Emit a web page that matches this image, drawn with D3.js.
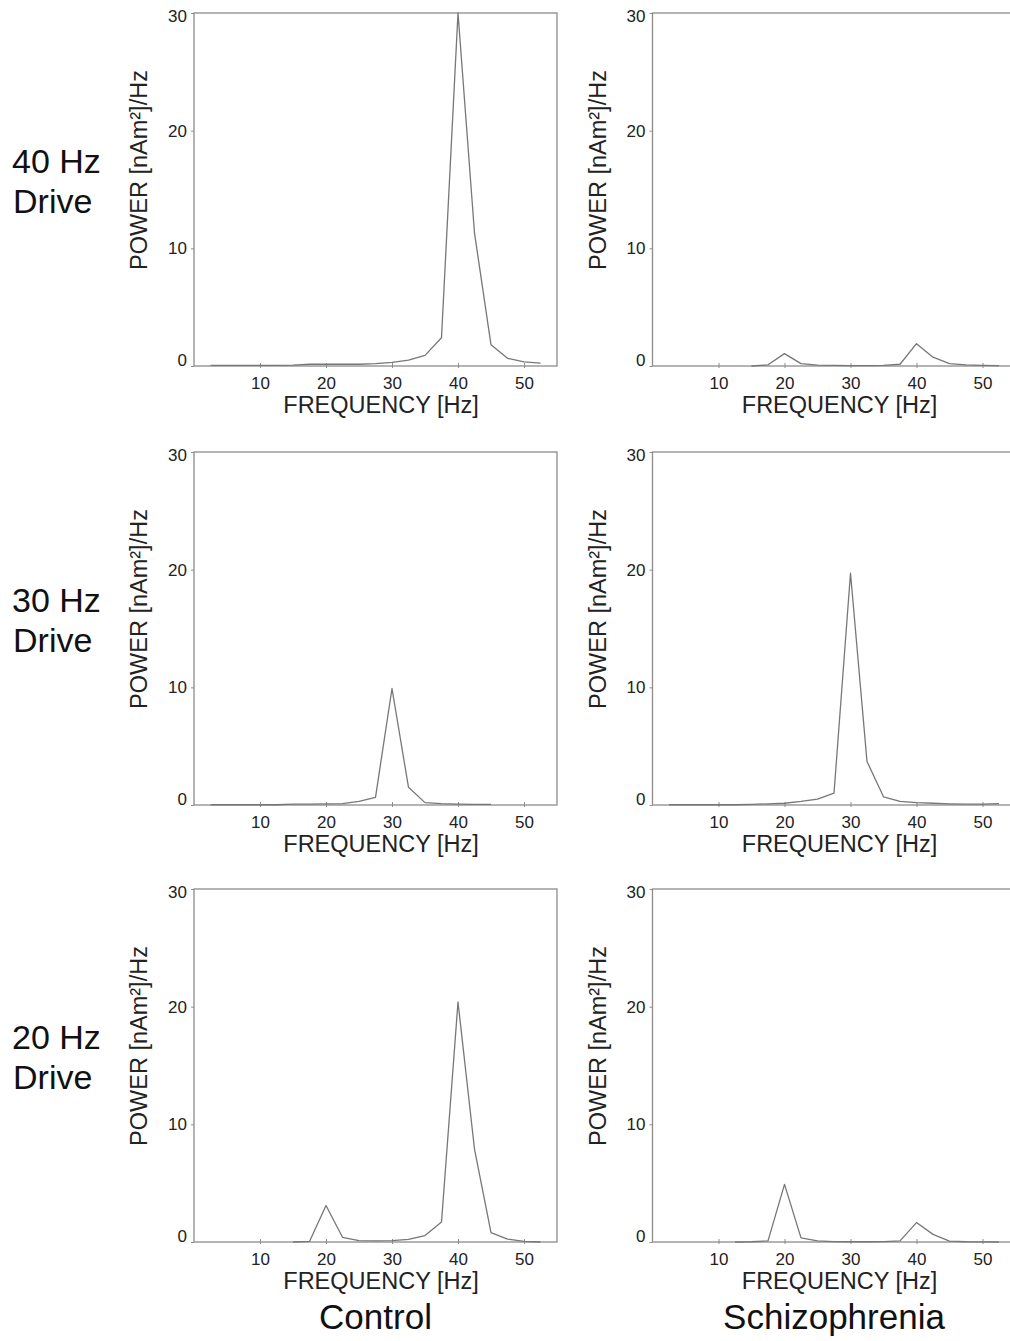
<!DOCTYPE html>
<html>
<head>
<meta charset="utf-8">
<script src="https://cdn.jsdelivr.net/npm/d3@7"></script>
<style>
  body { margin: 0; background: #fff; }
  svg { display: block; font-family: "Liberation Sans", Arial, sans-serif; }
</style>
</head>
<body>
<div id="chart"></div>
<script>
// frequency bins (Hz)
const freqs = [2.5, 5, 7.5, 10, 12.5, 15, 17.5, 20, 22.5, 25, 27.5, 30, 32.5, 35, 37.5, 40, 42.5, 45, 47.5, 50, 52.5];

// power spectra, nAm^2/Hz (null = not drawn)
const control40 = [0.05, 0.05, 0.05, 0.05, 0.05, 0.08, 0.15, 0.15, 0.15, 0.15, 0.2, 0.3, 0.5, 0.9, 2.4, 30, 11.3, 1.8, 0.65, 0.35, 0.25];
const schizo40  = [null, null, null, null, null, 0, 0.1, 1.05, 0.2, 0.08, 0.05, 0.03, 0.03, 0.05, 0.15, 1.9, 0.75, 0.2, 0.1, 0.05, 0.03];
const control30 = [0.02, 0.02, 0.02, 0.02, 0.02, 0.08, 0.08, 0.1, 0.12, 0.3, 0.65, 9.9, 1.5, 0.2, 0.12, 0.08, 0.05, 0.05, null, null, null];
const schizo30  = [0.02, 0.02, 0.02, 0.02, 0.02, 0.05, 0.1, 0.15, 0.3, 0.5, 1.0, 19.7, 3.7, 0.7, 0.3, 0.2, 0.15, 0.1, 0.08, 0.08, 0.12];
const control20 = [null, null, null, null, null, 0, 0.05, 3.1, 0.4, 0.12, 0.1, 0.12, 0.22, 0.55, 1.7, 20.4, 7.9, 0.8, 0.25, 0.05, 0];
const schizo20  = [null, null, null, null, 0, 0.02, 0.1, 4.9, 0.35, 0.1, 0.03, 0.02, 0.02, 0.03, 0.1, 1.65, 0.65, 0.08, 0.02, 0.01, 0];

const rowLabels = ["40 Hz", "30 Hz", "20 Hz"];
const groups = ["Control", "Schizophrenia"];
const xTicks = [10, 20, 30, 40, 50];
const yTicks = [0, 10, 20, 30];

const series = [
  [control40, schizo40],
  [control30, schizo30],
  [control20, schizo20]
];

const W = 1010, H = 1341;
const colLeft = [194, 652.5];
const rowTop = [13, 452, 889];
const pw = 363, ph = 353;

const svg = d3.select("#chart").append("svg")
  .attr("width", W)
  .attr("height", H);

svg.append("rect").attr("width", W).attr("height", H).attr("fill", "#fff");

const x = d3.scaleLinear().domain([0, 55]).range([0, pw]);
const y = d3.scaleLinear().domain([0, 30]).range([ph, 0]);

const line = d3.line()
  .defined(d => d[1] != null)
  .x(d => x(d[0]))
  .y(d => y(d[1]));

const frameColor = "#8c8c8c";

rowLabels.forEach((lab, r) => {
  // row label
  const rl = svg.append("text")
    .attr("x", 12)
    .attr("y", rowTop[r] + 160)
    .style("font-size", "34px")
    .attr("fill", "#111");
  rl.append("tspan").attr("x", 12).text(lab);
  rl.append("tspan").attr("x", 13).attr("dy", 40).text("Drive");

  groups.forEach((grp, c) => {
    const g = svg.append("g")
      .attr("transform", `translate(${colLeft[c]},${rowTop[r]})`);

    // x axis
    const xa = g.append("g")
      .attr("transform", `translate(0,${ph})`)
      .call(d3.axisBottom(x).tickValues(xTicks).tickSize(5));
    xa.select(".domain").remove();
    xa.selectAll("line").attr("y1", -3).attr("y2", 2).attr("stroke", frameColor);
    xa.selectAll("text")
      .attr("y", 11)
      .attr("fill", "#222")
      .style("font-size", "17px")
      .style("font-family", "Liberation Sans, Arial, sans-serif");

    // y axis
    const ya = g.append("g")
      .call(d3.axisLeft(y).tickValues(yTicks).tickSize(3));
    ya.select(".domain").remove();
    ya.selectAll("line").attr("stroke", frameColor);
    ya.selectAll("text")
      .attr("x", -7)
      .attr("dy", d => d === 0 ? "-0.05em" : d === 30 ? "0.5em" : "0.32em")
      .attr("fill", "#222")
      .style("font-size", "17px")
      .style("font-family", "Liberation Sans, Arial, sans-serif");

    // frame
    g.append("rect")
      .attr("x", 0).attr("y", 0)
      .attr("width", pw).attr("height", ph)
      .attr("fill", "none")
      .attr("stroke", frameColor)
      .attr("stroke-width", 1.3);

    // spectrum
    const vals = series[r][c];
    g.append("path")
      .datum(freqs.map((f, i) => [f, vals[i]]))
      .attr("d", line)
      .attr("fill", "none")
      .attr("stroke", "#777")
      .attr("stroke-width", 1.3)
      .attr("stroke-linejoin", "round");

    // axis titles
    g.append("text")
      .attr("x", 187)
      .attr("y", ph + 47)
      .attr("text-anchor", "middle")
      .attr("fill", "#222")
      .style("font-size", "23.5px")
      .text("FREQUENCY [Hz]");

    g.append("text")
      .attr("transform", `translate(-47,157) rotate(-90)`)
      .attr("text-anchor", "middle")
      .attr("fill", "#222")
      .style("font-size", "23.5px")
      .text("POWER [nAm²]/Hz");

    // group label under bottom row
    if (r === rowLabels.length - 1) {
      g.append("text")
        .attr("x", pw / 2)
        .attr("y", ph + 87)
        .attr("text-anchor", "middle")
        .attr("fill", "#111")
        .style("font-size", "35px")
        .text(grp);
    }
  });
});
</script>
</body>
</html>
